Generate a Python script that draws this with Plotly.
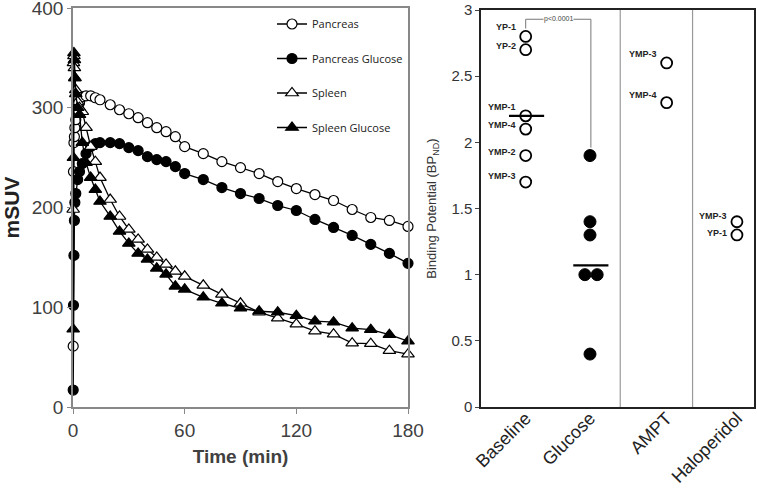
import plotly.graph_objects as go

# ---------------- Left panel data ----------------
time_min = [0.1, 0.25, 0.5, 0.75, 1, 1.5, 2.5, 3.5, 5, 7, 9.5, 12, 14.5,
            20, 25, 30, 35, 40, 45, 50, 55, 60,
            70, 80, 90, 100, 110, 120, 130, 140, 150, 160, 170, 180]
pancreas = [61, 236, 265, 271, 280, 288, 298, 305, 311, 312, 312, 310, 308,
            303, 298, 294, 290, 285, 280, 276, 271, 261,
            254, 246, 240, 234, 226, 219, 213, 207, 198, 190, 187, 181]
pancreas_glucose = [17, 102, 152, 187, 205, 214, 228, 236, 244, 254, 261, 264, 265,
                    265, 264, 260, 257, 251, 248, 246, 241, 234,
                    228, 220, 214, 209, 202, 197, 188, 180, 172, 163, 154, 144]
spleen = [198, 345, 352, 340, 330, 318, 306, 300, 296, 280, 261, 246, 230,
          208, 191, 178, 168, 158, 150, 143, 136, 131,
          122, 113, 104, 95, 89, 83, 76, 73, 64, 63.5, 56.5, 53]
spleen_glucose = [78, 250, 355, 348, 330, 314, 300, 293, 265, 245, 230, 218, 206,
                  191, 176, 164, 154, 148, 139, 133, 121, 118,
                  110, 104, 99, 96, 95, 91.5, 86, 85, 79, 77.5, 72.5, 66]
left_xticks = [0, 60, 120, 180]
left_yticks = [0, 100, 200, 300, 400]

# ---------------- Right panel data ----------------
groups = ["Baseline", "Glucose", "AMPT", "Haloperidol"]
baseline_vals = [2.8, 2.7, 2.2, 2.1, 1.9, 1.7]
baseline_labels = ["YP-1", "YP-2", "YMP-1", "YMP-4", "YMP-2", "YMP-3"]
glucose_vals = [1.9, 1.4, 1.3, 1.0, 1.0, 0.4]
ampt_vals = [2.6, 2.3]
ampt_labels = ["YMP-3", "YMP-4"]
halo_vals = [1.4, 1.3]
halo_labels = ["YMP-3", "YP-1"]
group_means = [2.2, 1.07]
p_text = "p<0.0001"
right_yticks = [0, 0.5, 1, 1.5, 2, 2.5, 3]

# layout helpers (axis positions of the groups, jitter of overlapping points)
group_x = [0.655, 1.597, 2.72, 3.75]
glucose_jitter = [0, 0, 0, -0.075, 0.105, 0]
dividers = [2.04, 3.10]

W, H = 757, 490
def px_x(p): return p / W
def px_y(p): return 1 - p / H

fig = go.Figure()

line_style = dict(color="black", width=1.3)
series = [
    ("Pancreas", pancreas, "circle", "white"),
    ("Pancreas Glucose", pancreas_glucose, "circle", "black"),
    ("Spleen", spleen, "triangle-up", "white"),
    ("Spleen Glucose", spleen_glucose, "triangle-up", "black"),
]
for i, (name, vals, sym, fill) in enumerate(series):
    fig.add_trace(go.Scatter(
        x=time_min, y=vals, name=name, mode="lines+markers",
        line=line_style, cliponaxis=False, legendgroup=name,
        marker=dict(symbol=sym, color=fill, size=10 if sym == "circle" else 11,
                    line=dict(color="black", width=1.2)),
        xaxis="x", yaxis="y"))

# Right panel points
open_mk = dict(symbol="circle", size=11, color="white", line=dict(color="black", width=1.8))
fig.add_trace(go.Scatter(x=[group_x[0]] * len(baseline_vals), y=baseline_vals, mode="markers",
                         marker=open_mk, showlegend=False, xaxis="x2", yaxis="y2", cliponaxis=False))
fig.add_trace(go.Scatter(x=[group_x[1] + j for j in glucose_jitter], y=glucose_vals, mode="markers",
                         marker=dict(symbol="circle", size=12, color="black", line=dict(color="black", width=1)),
                         showlegend=False, xaxis="x2", yaxis="y2", cliponaxis=False))
fig.add_trace(go.Scatter(x=[group_x[2]] * len(ampt_vals), y=ampt_vals, mode="markers",
                         marker=open_mk, showlegend=False, xaxis="x2", yaxis="y2", cliponaxis=False))
fig.add_trace(go.Scatter(x=[group_x[3]] * len(halo_vals), y=halo_vals, mode="markers",
                         marker=open_mk, showlegend=False, xaxis="x2", yaxis="y2", cliponaxis=False))

# mean lines
for gi, m in zip([0, 1], group_means):
    fig.add_trace(go.Scatter(x=[group_x[gi] - 0.245, group_x[gi] + 0.27], y=[m, m], mode="lines",
                             line=dict(color="black", width=2.2), showlegend=False,
                             xaxis="x2", yaxis="y2", hoverinfo="skip"))

# point labels
lab_font = dict(family="Liberation Sans, Arial", size=9, color="#222")
def add_labels(gx, vals, labels, yshifts):
    for v, t, ys in zip(vals, labels, yshifts):
        fig.add_annotation(x=gx, y=v, xref="x2", yref="y2", text="<b>%s</b>" % t,
                           showarrow=False, xanchor="right", yanchor="middle",
                           xshift=-8, yshift=ys, font=lab_font)
add_labels(group_x[0], baseline_vals, baseline_labels, [9, 4, 9, 4, 4, 6])
add_labels(group_x[2], ampt_vals, ampt_labels, [9, 8])
add_labels(group_x[3], halo_vals, halo_labels, [6, 2])

# dividers
shapes = []
for d in dividers:
    shapes.append(dict(type="line", xref="x2", yref="y2 domain", x0=d, x1=d, y0=0, y1=1,
                       line=dict(color="#999", width=1.2)))
# bracket
bx0, bx1 = group_x[0], 1.61
shapes.append(dict(type="path", xref="x2", yref="y2",
                   path="M %f,2.86 L %f,2.93 L %f,2.93 L %f,1.96" % (bx0, bx0, bx1, bx1),
                   line=dict(color="#777", width=1)))
fig.add_annotation(x=(bx0 + bx1) / 2, y=2.93, xref="x2", yref="y2", text=p_text, showarrow=False,
                   font=dict(family="Liberation Sans, Arial", size=7, color="#444"),
                   bgcolor="white", borderpad=0)

fig.update_layout(
    width=W, height=H, margin=dict(l=0, r=0, t=0, b=0),
    paper_bgcolor="white", plot_bgcolor="white",
    shapes=shapes,
    xaxis=dict(domain=[px_x(73), px_x(408)], range=[0, 180], tickvals=left_xticks,
               automargin=False, ticklabeloverflow="allow",
               showline=True, linecolor="#888", linewidth=1.5, mirror=True,
               ticks="outside", ticklen=5, tickcolor="#888", showgrid=False, zeroline=False,
               tickfont=dict(family="Liberation Sans, Arial", size=19, color="#404040"),
               title=dict(text="<b>Time (min)</b>", standoff=10,
                          font=dict(family="Liberation Sans, Arial", size=19, color="#404040"))),
    yaxis=dict(domain=[px_y(407), px_y(8)], range=[0, 400], tickvals=left_yticks,
               automargin=False, ticklabeloverflow="allow",
               showline=True, linecolor="#888", linewidth=1.5, mirror=True,
               ticks="outside", ticklen=4, tickcolor="#888", showgrid=False, zeroline=False,
               tickfont=dict(family="Liberation Sans, Arial", size=19, color="#404040"),
               title=dict(text="<b>mSUV</b>", standoff=12,
                          font=dict(family="Liberation Sans, Arial", size=21, color="#222"))),
    xaxis2=dict(domain=[px_x(481), px_x(754)], range=[0, 4], tickvals=group_x, ticktext=groups,
                automargin=False, ticklabeloverflow="allow", ticklabelstandoff=-8,
                anchor="y2", tickangle=-45, showline=True, linecolor="#222", linewidth=1.5, mirror=True,
                ticks="", showgrid=False, zeroline=False,
                tickfont=dict(family="Liberation Sans, Arial", size=18, color="#222")),
    yaxis2=dict(domain=[px_y(407), px_y(10)], range=[0, 3], tickvals=right_yticks,
                ticktext=[("%g" % v) for v in right_yticks], anchor="x2",
                automargin=False, ticklabeloverflow="allow",
                showline=True, linecolor="#222", linewidth=1.5, mirror=True,
                ticks="outside", ticklen=4, tickcolor="#444", showgrid=False, zeroline=False,
                tickfont=dict(family="Liberation Sans, Arial", size=15, color="#333"),
                title=dict(text="Binding Potential (BP<sub>ND</sub>)", standoff=12,
                           font=dict(family="Liberation Sans, Arial", size=13, color="#333"))),
    legend=dict(x=px_x(272), y=px_y(9.5), xanchor="left", yanchor="top",
                bgcolor="rgba(0,0,0,0)", traceorder="grouped", tracegroupgap=15.5,
                font=dict(family="Open Sans, Arial", size=11, color="#222"),
                itemwidth=30),
)

fig.write_html("out.html", config={"displayModeBar": False},
               post_script="document.body.style.margin='0';")
